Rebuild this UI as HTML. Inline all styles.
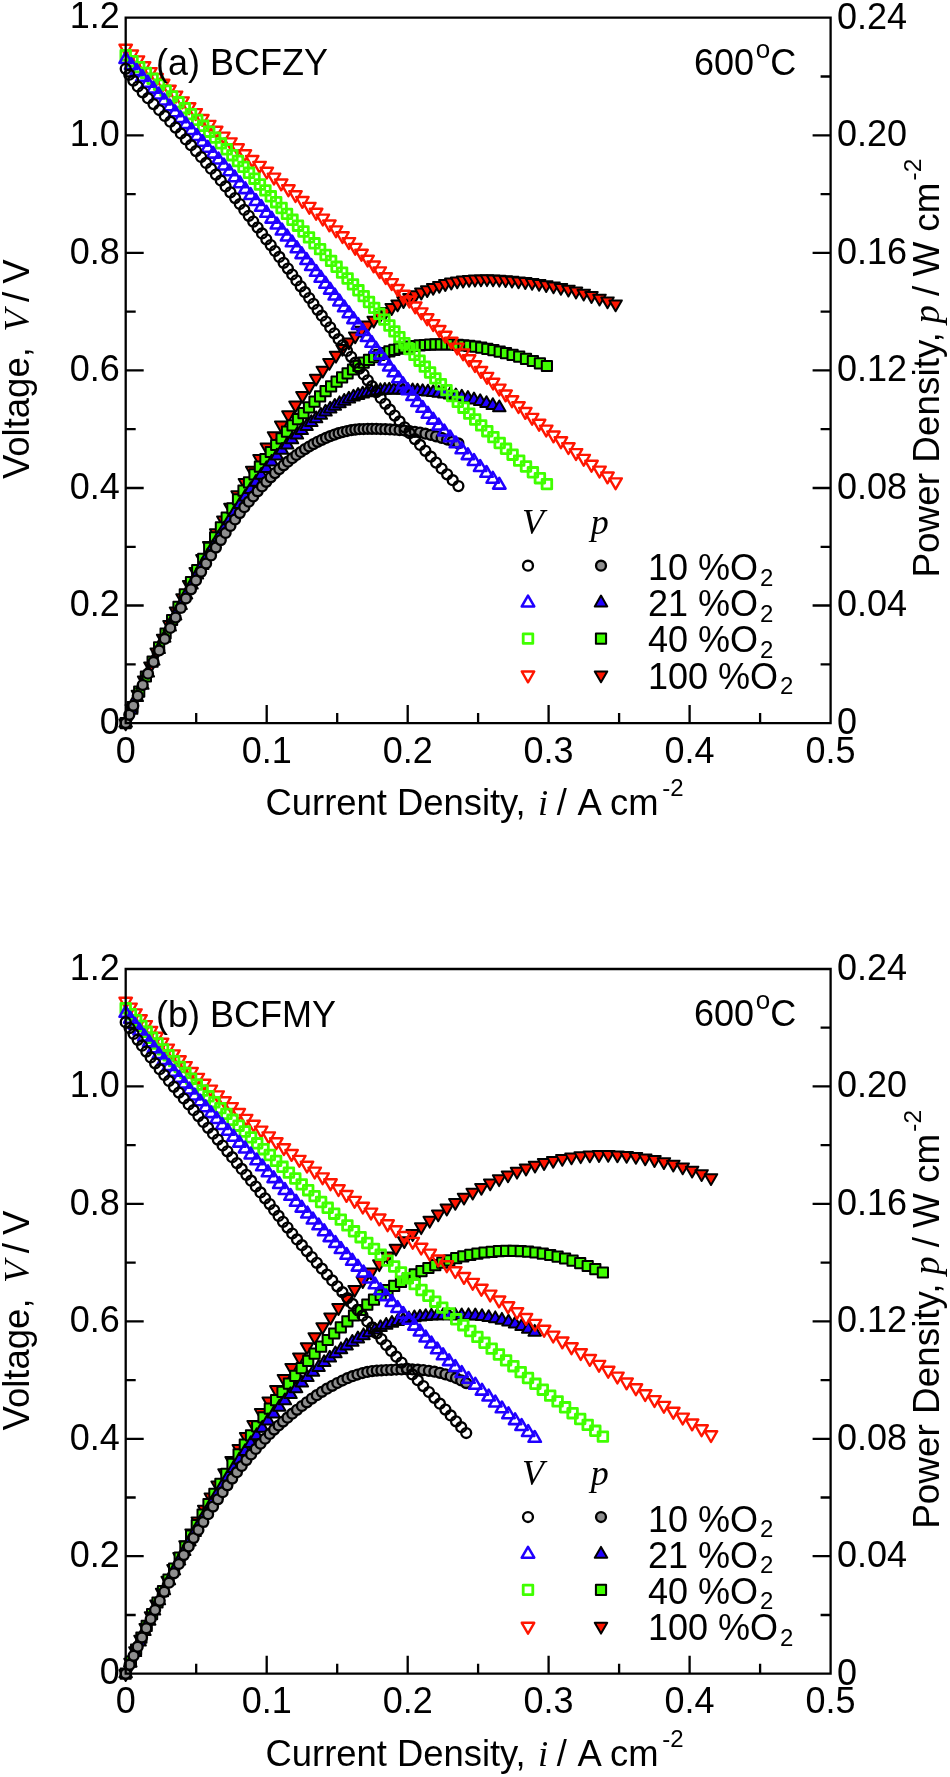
<!DOCTYPE html>
<html><head><meta charset="utf-8"><title>chart</title>
<style>html,body{margin:0;padding:0;background:#fff}svg{display:block;will-change:transform;font-family:"Liberation Sans",sans-serif;font-size:36px;fill:#000}.it{font-family:"Liberation Serif",serif;font-style:italic}</style></head>
<body>
<svg width="950" height="1777" viewBox="0 0 950 1777">
<rect width="950" height="1777" fill="#fff"/>
<defs><g id="sv10"><circle r="4.95" fill="none" stroke="#000000" stroke-width="2.35" stroke-linejoin="round"/></g><marker id="v10" markerUnits="userSpaceOnUse" markerWidth="20" markerHeight="20" viewBox="-10 -10 20 20" refX="0" refY="0" overflow="visible"><circle r="4.95" fill="none" stroke="#000000" stroke-width="2.35" stroke-linejoin="round"/></marker><g id="sp10"><circle r="4.95" fill="#8e8e8e" stroke="#000" stroke-width="2.35" stroke-linejoin="round"/></g><marker id="p10" markerUnits="userSpaceOnUse" markerWidth="20" markerHeight="20" viewBox="-10 -10 20 20" refX="0" refY="0" overflow="visible"><circle r="4.95" fill="#8e8e8e" stroke="#000" stroke-width="2.35" stroke-linejoin="round"/></marker><g id="sv21"><polygon points="0.00,-7.22 6.25,3.61 -6.25,3.61" fill="none" stroke="#2000ff" stroke-width="2.55" stroke-linejoin="round"/></g><marker id="v21" markerUnits="userSpaceOnUse" markerWidth="20" markerHeight="20" viewBox="-10 -10 20 20" refX="0" refY="0" overflow="visible"><polygon points="0.00,-7.22 6.25,3.61 -6.25,3.61" fill="none" stroke="#2000ff" stroke-width="2.55" stroke-linejoin="round"/></marker><g id="sp21"><polygon points="0.00,-7.22 6.25,3.61 -6.25,3.61" fill="#2000ff" stroke="#000" stroke-width="2.00" stroke-linejoin="round"/></g><marker id="p21" markerUnits="userSpaceOnUse" markerWidth="20" markerHeight="20" viewBox="-10 -10 20 20" refX="0" refY="0" overflow="visible"><polygon points="0.00,-7.22 6.25,3.61 -6.25,3.61" fill="#2000ff" stroke="#000" stroke-width="2.00" stroke-linejoin="round"/></marker><g id="sv40"><rect x="-4.80" y="-4.80" width="9.60" height="9.60" fill="none" stroke="#40ff00" stroke-width="2.80" stroke-linejoin="round"/></g><marker id="v40" markerUnits="userSpaceOnUse" markerWidth="20" markerHeight="20" viewBox="-10 -10 20 20" refX="0" refY="0" overflow="visible"><rect x="-4.80" y="-4.80" width="9.60" height="9.60" fill="none" stroke="#40ff00" stroke-width="2.80" stroke-linejoin="round"/></marker><g id="sp40"><rect x="-5.10" y="-5.10" width="10.20" height="10.20" fill="#40ff00" stroke="#000" stroke-width="2.00" stroke-linejoin="round"/></g><marker id="p40" markerUnits="userSpaceOnUse" markerWidth="20" markerHeight="20" viewBox="-10 -10 20 20" refX="0" refY="0" overflow="visible"><rect x="-5.10" y="-5.10" width="10.20" height="10.20" fill="#40ff00" stroke="#000" stroke-width="2.00" stroke-linejoin="round"/></marker><g id="sv100"><polygon points="0.00,7.22 6.25,-3.61 -6.25,-3.61" fill="none" stroke="#ff1500" stroke-width="2.40" stroke-linejoin="round"/></g><marker id="v100" markerUnits="userSpaceOnUse" markerWidth="20" markerHeight="20" viewBox="-10 -10 20 20" refX="0" refY="0" overflow="visible"><polygon points="0.00,7.22 6.25,-3.61 -6.25,-3.61" fill="none" stroke="#ff1500" stroke-width="2.40" stroke-linejoin="round"/></marker><g id="sp100"><polygon points="0.00,7.22 6.25,-3.61 -6.25,-3.61" fill="#ff1500" stroke="#000" stroke-width="2.00" stroke-linejoin="round"/></g><marker id="p100" markerUnits="userSpaceOnUse" markerWidth="20" markerHeight="20" viewBox="-10 -10 20 20" refX="0" refY="0" overflow="visible"><polygon points="0.00,7.22 6.25,-3.61 -6.25,-3.61" fill="#ff1500" stroke="#000" stroke-width="2.00" stroke-linejoin="round"/></marker></defs>
<g>
<polyline points="125.7,723.1 131.8,708.6 137.9,694.3 144.1,680.1 150.4,666.1 156.7,652.1 163.1,638.3 169.5,624.7 176.0,611.2 182.5,597.8 189.1,584.6 195.7,571.5 202.4,558.6 209.2,545.7 216.2,532.8 223.3,520.0 230.4,507.3 237.6,494.8 244.9,482.5 252.2,470.4 259.5,458.6 266.8,447.1 274.0,435.9 281.2,425.2 288.4,414.9 295.5,405.0 302.4,395.6 309.3,386.7 316.1,378.3 322.8,370.3 329.4,362.6 336.0,355.4 342.5,348.5 348.9,342.1 355.2,336.0 361.5,330.4 367.6,325.1 373.7,320.3 379.7,315.7 385.7,311.5 391.7,307.7 397.6,304.1 403.5,300.7 409.4,297.6 415.3,294.8 421.3,292.2 427.2,289.8 433.2,287.5 439.3,285.5 445.3,283.7 451.3,282.2 457.2,281.1 463.1,280.2 469.1,279.6 475.0,279.2 481.0,279.0 487.0,278.9 493.1,279.1 499.3,279.4 505.6,279.8 512.0,280.3 518.5,281.0 525.3,281.7 532.1,282.6 539.1,283.6 546.2,284.8 553.5,286.1 560.9,287.6 568.4,289.3 576.0,291.2 583.7,293.3 591.5,295.7 599.5,298.3 607.5,301.1 615.6,304.1" fill="none" stroke="none" marker-start="url(#p100)" marker-mid="url(#p100)" marker-end="url(#p100)"/>
<polyline points="125.7,723.1 132.5,707.1 139.2,691.6 145.9,676.5 152.6,661.7 159.1,647.4 165.6,633.5 172.1,620.0 178.5,606.9 184.8,594.3 191.0,582.0 197.2,570.2 203.2,558.9 209.2,547.9 215.1,537.4 220.9,527.3 226.7,517.6 232.4,508.3 238.0,499.3 243.5,490.7 249.0,482.4 254.5,474.4 259.9,466.7 265.4,459.2 270.8,452.0 276.2,445.0 281.6,438.3 287.0,431.7 292.5,425.4 298.0,419.2 303.5,413.1 309.0,407.3 314.5,401.7 320.1,396.4 325.6,391.2 331.1,386.4 336.6,381.7 342.1,377.4 347.6,373.3 353.0,369.5 358.4,365.9 363.7,362.7 369.0,359.8 374.2,357.2 379.3,354.9 384.4,353.0 389.4,351.3 394.4,349.8 399.4,348.6 404.4,347.5 409.4,346.7 414.5,346.0 419.6,345.4 424.8,345.0 430.1,344.6 435.4,344.4 440.9,344.3 446.5,344.3 452.1,344.4 457.8,344.8 463.5,345.3 469.3,345.9 475.2,346.7 481.2,347.7 487.3,348.8 493.4,350.1 499.7,351.6 506.0,353.1 512.6,354.9 519.2,356.7 526.0,358.8 532.9,361.0 539.9,363.4 546.9,366.0" fill="none" stroke="none" marker-start="url(#p40)" marker-mid="url(#p40)" marker-end="url(#p40)"/>
<polyline points="125.7,723.1 131.2,710.2 136.8,697.5 142.3,685.2 147.8,673.0 153.3,661.1 158.7,649.5 164.2,638.1 169.7,626.9 175.1,616.0 180.6,605.4 186.0,595.0 191.5,584.9 196.9,574.9 202.3,565.3 207.7,555.8 213.1,546.7 218.5,537.7 223.9,529.0 229.3,520.6 234.6,512.4 240.0,504.5 245.3,496.8 250.6,489.4 255.9,482.2 261.2,475.2 266.5,468.5 271.7,462.0 276.9,455.9 282.0,450.2 287.1,444.8 292.0,439.7 296.9,435.0 301.7,430.5 306.6,426.3 311.3,422.4 316.1,418.7 320.8,415.2 325.5,412.0 330.2,409.0 334.8,406.2 339.5,403.6 344.2,401.2 348.9,399.0 353.5,397.0 358.1,395.3 362.7,393.9 367.1,392.7 371.6,391.8 376.0,391.1 380.4,390.6 384.8,390.2 389.3,390.0 393.8,389.9 398.4,390.0 403.0,390.1 407.7,390.4 412.6,390.7 417.5,391.0 422.6,391.5 427.9,391.9 433.2,392.5 438.7,393.2 444.3,393.9 450.1,394.8 455.9,395.8 461.8,397.0 467.9,398.3 474.0,399.8 480.2,401.5 486.5,403.4 492.8,405.4 499.3,407.7" fill="none" stroke="none" marker-start="url(#p21)" marker-mid="url(#p21)" marker-end="url(#p21)"/>
<polyline points="125.7,723.1 129.3,714.8 133.3,705.8 137.8,695.8 142.7,685.0 148.0,673.7 153.5,662.0 159.2,650.4 164.8,638.9 170.3,627.9 175.6,617.6 180.8,607.9 185.9,598.5 191.0,589.3 196.0,580.4 201.1,571.8 206.1,563.4 211.0,555.4 215.9,547.6 220.8,540.1 225.6,532.9 230.4,526.0 235.1,519.4 239.8,513.1 244.3,507.2 248.8,501.7 253.2,496.4 257.6,491.3 262.0,486.4 266.3,481.8 270.7,477.3 275.0,473.1 279.3,469.1 283.6,465.3 287.9,461.7 292.2,458.2 296.4,455.0 300.7,452.0 305.0,449.1 309.2,446.5 313.4,444.1 317.6,441.8 321.8,439.8 326.0,437.9 330.2,436.2 334.4,434.6 338.6,433.2 342.8,432.0 347.0,431.0 351.2,430.2 355.3,429.6 359.4,429.2 363.6,429.0 367.8,428.8 372.0,428.8 376.3,428.8 380.7,429.0 385.3,429.2 389.9,429.4 394.7,429.7 399.6,430.1 404.6,430.5 409.7,431.1 414.9,431.8 420.1,432.6 425.4,433.7 430.8,434.9 436.1,436.3 441.6,437.8 447.1,439.5 452.7,441.4 458.4,443.4" fill="none" stroke="none" marker-start="url(#p10)" marker-mid="url(#p10)" marker-end="url(#p10)"/>
<polyline points="125.7,48.3 131.8,54.1 137.9,60.0 144.1,65.8 150.4,71.7 156.7,77.6 163.1,83.4 169.5,89.3 176.0,95.2 182.5,101.0 189.1,106.9 195.7,112.7 202.4,118.6 209.2,124.5 216.2,130.3 223.3,136.2 230.4,142.0 237.6,147.9 244.9,153.8 252.2,159.6 259.5,165.5 266.8,171.3 274.0,177.2 281.2,183.1 288.4,188.9 295.5,194.8 302.4,200.6 309.3,206.5 316.1,212.4 322.8,218.2 329.4,224.1 336.0,230.0 342.5,235.8 348.9,241.7 355.2,247.5 361.5,253.4 367.6,259.3 373.7,265.1 379.7,271.0 385.7,276.8 391.7,282.7 397.6,288.6 403.5,294.4 409.4,300.3 415.3,306.1 421.3,312.0 427.2,317.9 433.2,323.7 439.3,329.6 445.3,335.4 451.3,341.3 457.2,347.2 463.1,353.0 469.1,358.9 475.0,364.8 481.0,370.6 487.0,376.5 493.1,382.3 499.3,388.2 505.6,394.1 512.0,399.9 518.5,405.8 525.3,411.6 532.1,417.5 539.1,423.4 546.2,429.2 553.5,435.1 560.9,440.9 568.4,446.8 576.0,452.7 583.7,458.5 591.5,464.4 599.5,470.2 607.5,476.1 615.6,482.0" fill="none" stroke="none" marker-start="url(#v100)" marker-mid="url(#v100)" marker-end="url(#v100)"/>
<polyline points="125.7,55.3 132.5,61.2 139.2,67.1 145.9,72.9 152.6,78.8 159.1,84.7 165.6,90.6 172.1,96.4 178.5,102.3 184.8,108.2 191.0,114.1 197.2,119.9 203.2,125.8 209.2,131.7 215.1,137.6 220.9,143.4 226.7,149.3 232.4,155.2 238.0,161.0 243.5,166.9 249.0,172.8 254.5,178.7 259.9,184.5 265.4,190.4 270.8,196.3 276.2,202.2 281.6,208.0 287.0,213.9 292.5,219.8 298.0,225.7 303.5,231.5 309.0,237.4 314.5,243.3 320.1,249.1 325.6,255.0 331.1,260.9 336.6,266.8 342.1,272.6 347.6,278.5 353.0,284.4 358.4,290.3 363.7,296.1 369.0,302.0 374.2,307.9 379.3,313.8 384.4,319.6 389.4,325.5 394.4,331.4 399.4,337.2 404.4,343.1 409.4,349.0 414.5,354.9 419.6,360.7 424.8,366.6 430.1,372.5 435.4,378.4 440.9,384.2 446.5,390.1 452.1,396.0 457.8,401.9 463.5,407.7 469.3,413.6 475.2,419.5 481.2,425.4 487.3,431.2 493.4,437.1 499.7,443.0 506.0,448.8 512.6,454.7 519.2,460.6 526.0,466.5 532.9,472.3 539.9,478.2 546.9,484.1" fill="none" stroke="none" marker-start="url(#v40)" marker-mid="url(#v40)" marker-end="url(#v40)"/>
<polyline points="125.7,59.4 131.2,65.3 136.8,71.3 142.3,77.2 147.8,83.1 153.3,89.0 158.7,94.9 164.2,100.8 169.7,106.7 175.1,112.6 180.6,118.5 186.0,124.5 191.5,130.4 196.9,136.3 202.3,142.2 207.7,148.1 213.1,154.0 218.5,159.9 223.9,165.8 229.3,171.7 234.6,177.7 240.0,183.6 245.3,189.5 250.6,195.4 255.9,201.3 261.2,207.2 266.5,213.1 271.7,219.0 276.9,224.9 282.0,230.9 287.1,236.8 292.0,242.7 296.9,248.6 301.7,254.5 306.6,260.4 311.3,266.3 316.1,272.2 320.8,278.1 325.5,284.1 330.2,290.0 334.8,295.9 339.5,301.8 344.2,307.7 348.9,313.6 353.5,319.5 358.1,325.4 362.7,331.3 367.1,337.3 371.6,343.2 376.0,349.1 380.4,355.0 384.8,360.9 389.3,366.8 393.8,372.7 398.4,378.6 403.0,384.5 407.7,390.5 412.6,396.4 417.5,402.3 422.6,408.2 427.9,414.1 433.2,420.0 438.7,425.9 444.3,431.8 450.1,437.7 455.9,443.7 461.8,449.6 467.9,455.5 474.0,461.4 480.2,467.3 486.5,473.2 492.8,479.1 499.3,485.0" fill="none" stroke="none" marker-start="url(#v21)" marker-mid="url(#v21)" marker-end="url(#v21)"/>
<polyline points="125.7,68.8 129.3,74.7 133.3,80.6 137.8,86.5 142.7,92.3 148.0,98.2 153.5,104.1 159.2,110.0 164.8,115.9 170.3,121.7 175.6,127.6 180.8,133.5 185.9,139.4 191.0,145.2 196.0,151.1 201.1,157.0 206.1,162.9 211.0,168.7 215.9,174.6 220.8,180.5 225.6,186.4 230.4,192.3 235.1,198.1 239.8,204.0 244.3,209.9 248.8,215.8 253.2,221.6 257.6,227.5 262.0,233.4 266.3,239.3 270.7,245.1 275.0,251.0 279.3,256.9 283.6,262.8 287.9,268.6 292.2,274.5 296.4,280.4 300.7,286.3 305.0,292.2 309.2,298.0 313.4,303.9 317.6,309.8 321.8,315.7 326.0,321.5 330.2,327.4 334.4,333.3 338.6,339.2 342.8,345.0 347.0,350.9 351.2,356.8 355.3,362.7 359.4,368.6 363.6,374.4 367.8,380.3 372.0,386.2 376.3,392.1 380.7,397.9 385.3,403.8 389.9,409.7 394.7,415.6 399.6,421.4 404.6,427.3 409.7,433.2 414.9,439.1 420.1,444.9 425.4,450.8 430.8,456.7 436.1,462.6 441.6,468.5 447.1,474.3 452.7,480.2 458.4,486.1" fill="none" stroke="none" marker-start="url(#v10)" marker-mid="url(#v10)" marker-end="url(#v10)"/>
<path d="M125.7 17.7H830.6V723.1H125.7ZM125.7 723.1h18M830.6 723.1h-18M125.7 664.3h10M830.6 664.3h-10M125.7 605.5h18M830.6 605.5h-18M125.7 546.8h10M830.6 546.8h-10M125.7 488.0h18M830.6 488.0h-18M125.7 429.2h10M830.6 429.2h-10M125.7 370.4h18M830.6 370.4h-18M125.7 311.6h10M830.6 311.6h-10M125.7 252.8h18M830.6 252.8h-18M125.7 194.1h10M830.6 194.1h-10M125.7 135.3h18M830.6 135.3h-18M125.7 76.5h10M830.6 76.5h-10M125.7 17.7h18M830.6 17.7h-18M125.7 723.1v-18M196.2 723.1v-10M266.7 723.1v-18M337.2 723.1v-10M407.7 723.1v-18M478.1 723.1v-10M548.6 723.1v-18M619.1 723.1v-10M689.6 723.1v-18M760.1 723.1v-10M830.6 723.1v-18" fill="none" stroke="#000" stroke-width="2.3" stroke-linecap="butt" stroke-linejoin="miter"/>
<text x="119.7" y="733.8" text-anchor="end">0</text>
<text x="837.0" y="733.9">0</text>
<text x="119.7" y="616.2" text-anchor="end">0.2</text>
<text x="837.0" y="616.3">0.04</text>
<text x="119.7" y="498.7" text-anchor="end">0.4</text>
<text x="837.0" y="498.8">0.08</text>
<text x="119.7" y="381.1" text-anchor="end">0.6</text>
<text x="837.0" y="381.2">0.12</text>
<text x="119.7" y="263.5" text-anchor="end">0.8</text>
<text x="837.0" y="263.6">0.16</text>
<text x="119.7" y="146.0" text-anchor="end">1.0</text>
<text x="837.0" y="146.1">0.20</text>
<text x="119.7" y="28.4" text-anchor="end">1.2</text>
<text x="837.0" y="28.5">0.24</text>
<text x="125.7" y="762.7" text-anchor="middle">0</text>
<text x="266.7" y="762.7" text-anchor="middle">0.1</text>
<text x="407.7" y="762.7" text-anchor="middle">0.2</text>
<text x="548.6" y="762.7" text-anchor="middle">0.3</text>
<text x="689.6" y="762.7" text-anchor="middle">0.4</text>
<text x="830.6" y="762.7" text-anchor="middle">0.5</text>
<g font-size="36.4"><text x="265.5" y="815.0">Current Density,</text><text class="it" x="538" y="815.0">i</text><text x="556.8" y="815.0">/</text><text x="577.5" y="815.0">A</text><text x="610" y="815.0">cm</text><text x="662.2" y="796.2" font-size="24">-2</text></g>
<g font-size="36.5"><text transform="translate(28.8 479.1) rotate(-90)">Voltage,</text><text transform="translate(28.8 331.7) rotate(-90)" class="it">V</text><text transform="translate(28.8 302.0) rotate(-90)">/</text><text transform="translate(28.8 283.8) rotate(-90)">V</text></g>
<g font-size="36.9"><text transform="translate(939.4 577.5) rotate(-90)">Power Density,</text><text transform="translate(939.4 323.5) rotate(-90)" class="it">p</text><text transform="translate(939.4 295.9) rotate(-90)">/</text><text transform="translate(939.4 276.6) rotate(-90)">W</text><text transform="translate(939.4 231.7) rotate(-90)">cm</text><text transform="translate(920.7 180.4) rotate(-90)" font-size="24.5">-2</text></g>
<text x="156" y="75.3">(a) BCFZY</text>
<text x="693.9" y="75.0">600<tspan font-size="26" dx="1.7" dy="-17">o</tspan><tspan dy="17">C</tspan></text>
<text class="it" x="522" y="533.7">V</text>
<text class="it" x="590.7" y="533.7">p</text>
<use href="#sv10" x="528" y="565.7"/>
<use href="#sp10" x="601" y="565.7"/>
<text x="648" y="580.2">10 %O<tspan font-size="24" dx="2" dy="5.7">2</tspan></text>
<use href="#sv21" x="528" y="602.8"/>
<use href="#sp21" x="601" y="602.8"/>
<text x="648" y="616.2">21 %O<tspan font-size="24" dx="2" dy="5.7">2</tspan></text>
<use href="#sv40" x="528" y="638.6"/>
<use href="#sp40" x="601" y="638.6"/>
<text x="648" y="652.2">40 %O<tspan font-size="24" dx="2" dy="5.7">2</tspan></text>
<use href="#sv100" x="528" y="675.1"/>
<use href="#sp100" x="601" y="675.1"/>
<text x="648" y="688.6">100 %O<tspan font-size="24" dx="2" dy="5.7">2</tspan></text>
</g>
<g>
<polyline points="125.7,1673.7 130.5,1662.4 135.4,1650.9 140.5,1639.3 145.7,1627.7 151.0,1615.9 156.5,1604.1 162.1,1592.3 167.7,1580.4 173.5,1568.6 179.5,1556.7 185.5,1544.8 191.6,1533.0 197.8,1521.2 204.2,1509.3 210.8,1497.2 217.6,1485.1 224.5,1472.9 231.6,1460.7 238.8,1448.6 246.1,1436.5 253.6,1424.5 261.1,1412.7 268.7,1401.1 276.3,1389.7 283.9,1378.6 291.6,1367.7 299.3,1357.2 307.0,1346.9 314.7,1336.8 322.6,1326.9 330.5,1317.2 338.5,1307.7 346.5,1298.5 354.6,1289.5 362.8,1280.7 371.0,1272.2 379.3,1263.9 387.6,1256.0 395.9,1248.3 404.3,1240.8 412.7,1233.7 421.2,1226.9 429.7,1220.4 438.2,1214.1 446.8,1208.2 455.3,1202.6 464.0,1197.3 472.7,1192.3 481.4,1187.5 490.2,1183.1 499.1,1178.9 508.0,1175.0 517.0,1171.4 526.0,1168.2 535.0,1165.3 544.1,1162.7 553.2,1160.5 562.3,1158.6 571.5,1157.1 580.7,1155.9 589.8,1155.1 599.0,1154.7 608.2,1154.6 617.4,1155.0 626.6,1155.6 635.9,1156.6 645.2,1158.0 654.5,1159.7 663.9,1161.8 673.3,1164.3 682.7,1167.1 692.1,1170.3 701.6,1173.8 711.0,1177.8" fill="none" stroke="none" marker-start="url(#p100)" marker-mid="url(#p100)" marker-end="url(#p100)"/>
<polyline points="125.7,1673.7 130.9,1661.6 136.1,1649.5 141.4,1637.6 146.7,1625.8 152.1,1614.1 157.5,1602.5 163.0,1591.1 168.5,1579.7 174.1,1568.5 179.7,1557.5 185.4,1546.5 191.1,1535.7 196.8,1525.1 202.6,1514.6 208.5,1504.2 214.4,1493.9 220.4,1483.8 226.4,1473.8 232.5,1463.9 238.6,1454.3 244.8,1444.7 251.0,1435.4 257.2,1426.3 263.5,1417.3 269.8,1408.6 276.1,1400.1 282.5,1391.8 288.9,1383.7 295.3,1375.8 301.7,1368.2 308.2,1360.8 314.6,1353.7 321.1,1346.7 327.7,1340.0 334.2,1333.5 340.8,1327.3 347.4,1321.3 354.0,1315.5 360.6,1310.0 367.3,1304.7 374.0,1299.6 380.7,1294.8 387.5,1290.2 394.2,1285.9 401.0,1281.8 407.8,1278.0 414.7,1274.4 421.5,1271.1 428.4,1268.0 435.3,1265.2 442.3,1262.6 449.3,1260.3 456.2,1258.2 463.3,1256.4 470.3,1254.9 477.4,1253.6 484.5,1252.5 491.7,1251.8 498.9,1251.2 506.1,1250.9 513.4,1250.9 520.7,1251.2 528.0,1251.7 535.4,1252.5 542.8,1253.6 550.2,1255.0 557.6,1256.6 565.1,1258.5 572.6,1260.7 580.2,1263.2 587.7,1266.0 595.3,1269.1 602.9,1272.5" fill="none" stroke="none" marker-start="url(#p40)" marker-mid="url(#p40)" marker-end="url(#p40)"/>
<polyline points="125.7,1673.7 130.3,1663.0 135.0,1652.4 139.6,1641.9 144.4,1631.5 149.2,1621.1 154.0,1610.9 158.9,1600.7 163.9,1590.7 168.9,1580.7 173.9,1570.8 179.0,1561.0 184.2,1551.4 189.4,1541.8 194.7,1532.3 200.1,1522.8 205.6,1513.4 211.1,1504.1 216.7,1494.9 222.3,1485.9 227.9,1477.0 233.6,1468.3 239.4,1459.8 245.1,1451.5 250.8,1443.5 256.6,1435.6 262.3,1428.1 268.0,1420.8 273.7,1413.8 279.3,1407.1 284.9,1400.7 290.5,1394.5 296.1,1388.6 301.8,1382.9 307.4,1377.5 313.0,1372.2 318.6,1367.3 324.2,1362.5 329.8,1358.0 335.4,1353.7 341.0,1349.6 346.6,1345.8 352.3,1342.2 357.9,1338.8 363.5,1335.6 369.2,1332.7 374.9,1330.0 380.5,1327.5 386.2,1325.2 391.9,1323.2 397.6,1321.4 403.2,1319.9 408.8,1318.7 414.4,1317.7 420.0,1317.0 425.7,1316.4 431.4,1316.0 437.2,1315.7 443.1,1315.6 449.1,1315.6 455.3,1315.6 461.7,1315.7 468.5,1315.6 475.3,1315.8 482.0,1316.4 488.7,1317.4 495.3,1318.6 501.9,1320.1 508.5,1321.9 515.1,1324.0 521.6,1326.4 528.2,1329.1 534.7,1332.1" fill="none" stroke="none" marker-start="url(#p21)" marker-mid="url(#p21)" marker-end="url(#p21)"/>
<polyline points="125.7,1673.7 129.6,1664.8 133.6,1655.8 137.7,1646.7 142.0,1637.5 146.3,1628.3 150.7,1619.1 155.1,1610.0 159.7,1600.8 164.3,1591.8 169.0,1582.7 173.9,1573.3 178.9,1564.0 183.8,1555.1 188.7,1546.5 193.6,1538.1 198.4,1529.9 203.3,1521.9 208.1,1514.2 213.0,1506.6 217.8,1499.3 222.6,1492.2 227.4,1485.3 232.2,1478.6 236.9,1472.2 241.7,1466.0 246.4,1460.1 251.1,1454.4 255.8,1448.9 260.5,1443.7 265.1,1438.7 269.7,1433.9 274.1,1429.6 278.6,1425.5 283.0,1421.6 287.5,1417.7 292.2,1413.7 297.0,1409.8 301.9,1406.0 306.8,1402.3 311.8,1398.6 316.8,1395.2 321.9,1391.8 327.0,1388.7 332.2,1385.8 337.3,1383.0 342.4,1380.5 347.5,1378.2 352.5,1376.2 357.5,1374.5 362.5,1373.0 367.3,1371.9 372.1,1371.1 376.8,1370.6 381.4,1370.3 386.2,1370.0 391.2,1369.8 396.3,1369.5 401.5,1369.4 406.9,1369.3 412.3,1369.4 417.8,1369.7 423.3,1370.1 428.9,1370.8 434.4,1371.7 439.9,1372.8 445.4,1374.3 450.7,1376.0 456.0,1378.0 461.2,1380.4 466.2,1383.1" fill="none" stroke="none" marker-start="url(#p10)" marker-mid="url(#p10)" marker-end="url(#p10)"/>
<polyline points="125.7,1001.3 130.5,1007.2 135.4,1013.0 140.5,1018.9 145.7,1024.7 151.0,1030.6 156.5,1036.4 162.1,1042.3 167.7,1048.2 173.5,1054.0 179.5,1059.9 185.5,1065.7 191.6,1071.6 197.8,1077.5 204.2,1083.3 210.8,1089.2 217.6,1095.0 224.5,1100.9 231.6,1106.7 238.8,1112.6 246.1,1118.5 253.6,1124.3 261.1,1130.2 268.7,1136.0 276.3,1141.9 283.9,1147.8 291.6,1153.6 299.3,1159.5 307.0,1165.3 314.7,1171.2 322.6,1177.0 330.5,1182.9 338.5,1188.8 346.5,1194.6 354.6,1200.5 362.8,1206.3 371.0,1212.2 379.3,1218.1 387.6,1223.9 395.9,1229.8 404.3,1235.6 412.7,1241.5 421.2,1247.3 429.7,1253.2 438.2,1259.1 446.8,1264.9 455.3,1270.8 464.0,1276.6 472.7,1282.5 481.4,1288.4 490.2,1294.2 499.1,1300.1 508.0,1305.9 517.0,1311.8 526.0,1317.6 535.0,1323.5 544.1,1329.4 553.2,1335.2 562.3,1341.1 571.5,1346.9 580.7,1352.8 589.8,1358.6 599.0,1364.5 608.2,1370.4 617.4,1376.2 626.6,1382.1 635.9,1387.9 645.2,1393.8 654.5,1399.7 663.9,1405.5 673.3,1411.4 682.7,1417.2 692.1,1423.1 701.6,1428.9 711.0,1434.8" fill="none" stroke="none" marker-start="url(#v100)" marker-mid="url(#v100)" marker-end="url(#v100)"/>
<polyline points="125.7,1008.3 130.9,1014.2 136.1,1020.1 141.4,1025.9 146.7,1031.8 152.1,1037.7 157.5,1043.5 163.0,1049.4 168.5,1055.3 174.1,1061.1 179.7,1067.0 185.4,1072.9 191.1,1078.7 196.8,1084.6 202.6,1090.5 208.5,1096.3 214.4,1102.2 220.4,1108.1 226.4,1113.9 232.5,1119.8 238.6,1125.7 244.8,1131.5 251.0,1137.4 257.2,1143.3 263.5,1149.2 269.8,1155.0 276.1,1160.9 282.5,1166.8 288.9,1172.6 295.3,1178.5 301.7,1184.4 308.2,1190.2 314.6,1196.1 321.1,1202.0 327.7,1207.8 334.2,1213.7 340.8,1219.6 347.4,1225.4 354.0,1231.3 360.6,1237.2 367.3,1243.0 374.0,1248.9 380.7,1254.8 387.5,1260.6 394.2,1266.5 401.0,1272.4 407.8,1278.2 414.7,1284.1 421.5,1290.0 428.4,1295.8 435.3,1301.7 442.3,1307.6 449.3,1313.4 456.2,1319.3 463.3,1325.2 470.3,1331.0 477.4,1336.9 484.5,1342.8 491.7,1348.6 498.9,1354.5 506.1,1360.4 513.4,1366.2 520.7,1372.1 528.0,1378.0 535.4,1383.8 542.8,1389.7 550.2,1395.6 557.6,1401.4 565.1,1407.3 572.6,1413.2 580.2,1419.0 587.7,1424.9 595.3,1430.8 602.9,1436.6" fill="none" stroke="none" marker-start="url(#v40)" marker-mid="url(#v40)" marker-end="url(#v40)"/>
<polyline points="125.7,1013.2 130.3,1019.1 135.0,1025.0 139.6,1030.9 144.4,1036.8 149.2,1042.7 154.0,1048.6 158.9,1054.5 163.9,1060.4 168.9,1066.3 173.9,1072.2 179.0,1078.1 184.2,1084.0 189.4,1089.9 194.7,1095.8 200.1,1101.7 205.6,1107.6 211.1,1113.5 216.7,1119.4 222.3,1125.3 227.9,1131.2 233.6,1137.1 239.4,1143.0 245.1,1148.9 250.8,1154.8 256.6,1160.7 262.3,1166.7 268.0,1172.6 273.7,1178.5 279.3,1184.4 284.9,1190.3 290.5,1196.2 296.1,1202.1 301.8,1208.0 307.4,1213.9 313.0,1219.8 318.6,1225.7 324.2,1231.6 329.8,1237.5 335.4,1243.4 341.0,1249.3 346.6,1255.2 352.3,1261.1 357.9,1267.0 363.5,1272.9 369.2,1278.8 374.9,1284.7 380.5,1290.6 386.2,1296.5 391.9,1302.4 397.6,1308.3 403.2,1314.2 408.8,1320.1 414.4,1326.0 420.0,1331.9 425.7,1337.9 431.4,1343.8 437.2,1349.7 443.1,1355.6 449.1,1361.5 455.3,1367.4 461.7,1373.3 468.5,1379.2 475.3,1385.1 482.0,1391.0 488.7,1396.9 495.3,1402.8 501.9,1408.7 508.5,1414.6 515.1,1420.5 521.6,1426.4 528.2,1432.3 534.7,1438.2" fill="none" stroke="none" marker-start="url(#v21)" marker-mid="url(#v21)" marker-end="url(#v21)"/>
<polyline points="125.7,1022.2 129.6,1028.1 133.6,1033.9 137.7,1039.8 142.0,1045.7 146.3,1051.6 150.7,1057.4 155.1,1063.3 159.7,1069.2 164.3,1075.0 169.0,1080.9 173.9,1086.8 178.9,1092.6 183.8,1098.5 188.7,1104.4 193.6,1110.2 198.4,1116.1 203.3,1122.0 208.1,1127.8 213.0,1133.7 217.8,1139.6 222.6,1145.5 227.4,1151.3 232.2,1157.2 236.9,1163.1 241.7,1168.9 246.4,1174.8 251.1,1180.7 255.8,1186.5 260.5,1192.4 265.1,1198.3 269.7,1204.1 274.1,1210.0 278.6,1215.9 283.0,1221.8 287.5,1227.6 292.2,1233.5 297.0,1239.4 301.9,1245.2 306.8,1251.1 311.8,1257.0 316.8,1262.8 321.9,1268.7 327.0,1274.6 332.2,1280.4 337.3,1286.3 342.4,1292.2 347.5,1298.1 352.5,1303.9 357.5,1309.8 362.5,1315.7 367.3,1321.5 372.1,1327.4 376.8,1333.3 381.4,1339.1 386.2,1345.0 391.2,1350.9 396.3,1356.7 401.5,1362.6 406.9,1368.5 412.3,1374.4 417.8,1380.2 423.3,1386.1 428.9,1392.0 434.4,1397.8 439.9,1403.7 445.4,1409.6 450.7,1415.4 456.0,1421.3 461.2,1427.2 466.2,1433.0" fill="none" stroke="none" marker-start="url(#v10)" marker-mid="url(#v10)" marker-end="url(#v10)"/>
<path d="M125.7 969.0H830.6V1673.7H125.7ZM125.7 1673.7h18M830.6 1673.7h-18M125.7 1615.0h10M830.6 1615.0h-10M125.7 1556.2h18M830.6 1556.2h-18M125.7 1497.5h10M830.6 1497.5h-10M125.7 1438.8h18M830.6 1438.8h-18M125.7 1380.1h10M830.6 1380.1h-10M125.7 1321.3h18M830.6 1321.3h-18M125.7 1262.6h10M830.6 1262.6h-10M125.7 1203.9h18M830.6 1203.9h-18M125.7 1145.2h10M830.6 1145.2h-10M125.7 1086.4h18M830.6 1086.4h-18M125.7 1027.7h10M830.6 1027.7h-10M125.7 969.0h18M830.6 969.0h-18M125.7 1673.7v-18M196.2 1673.7v-10M266.7 1673.7v-18M337.2 1673.7v-10M407.7 1673.7v-18M478.1 1673.7v-10M548.6 1673.7v-18M619.1 1673.7v-10M689.6 1673.7v-18M760.1 1673.7v-10M830.6 1673.7v-18" fill="none" stroke="#000" stroke-width="2.3" stroke-linecap="butt" stroke-linejoin="miter"/>
<text x="119.7" y="1684.4" text-anchor="end">0</text>
<text x="837.0" y="1684.5">0</text>
<text x="119.7" y="1567.0" text-anchor="end">0.2</text>
<text x="837.0" y="1567.0">0.04</text>
<text x="119.7" y="1449.5" text-anchor="end">0.4</text>
<text x="837.0" y="1449.6">0.08</text>
<text x="119.7" y="1332.0" text-anchor="end">0.6</text>
<text x="837.0" y="1332.1">0.12</text>
<text x="119.7" y="1214.6" text-anchor="end">0.8</text>
<text x="837.0" y="1214.7">0.16</text>
<text x="119.7" y="1097.1" text-anchor="end">1.0</text>
<text x="837.0" y="1097.2">0.20</text>
<text x="119.7" y="979.7" text-anchor="end">1.2</text>
<text x="837.0" y="979.8">0.24</text>
<text x="125.7" y="1713.3" text-anchor="middle">0</text>
<text x="266.7" y="1713.3" text-anchor="middle">0.1</text>
<text x="407.7" y="1713.3" text-anchor="middle">0.2</text>
<text x="548.6" y="1713.3" text-anchor="middle">0.3</text>
<text x="689.6" y="1713.3" text-anchor="middle">0.4</text>
<text x="830.6" y="1713.3" text-anchor="middle">0.5</text>
<g font-size="36.4"><text x="265.5" y="1765.6">Current Density,</text><text class="it" x="538" y="1765.6">i</text><text x="556.8" y="1765.6">/</text><text x="577.5" y="1765.6">A</text><text x="610" y="1765.6">cm</text><text x="662.2" y="1746.8" font-size="24">-2</text></g>
<g font-size="36.5"><text transform="translate(28.8 1430.4) rotate(-90)">Voltage,</text><text transform="translate(28.8 1283.0) rotate(-90)" class="it">V</text><text transform="translate(28.8 1253.3) rotate(-90)">/</text><text transform="translate(28.8 1235.1) rotate(-90)">V</text></g>
<g font-size="36.9"><text transform="translate(939.4 1528.8) rotate(-90)">Power Density,</text><text transform="translate(939.4 1274.8) rotate(-90)" class="it">p</text><text transform="translate(939.4 1247.2) rotate(-90)">/</text><text transform="translate(939.4 1227.9) rotate(-90)">W</text><text transform="translate(939.4 1183.0) rotate(-90)">cm</text><text transform="translate(920.7 1131.7) rotate(-90)" font-size="24.5">-2</text></g>
<text x="156" y="1026.6">(b) BCFMY</text>
<text x="693.9" y="1026.3">600<tspan font-size="26" dx="1.7" dy="-17">o</tspan><tspan dy="17">C</tspan></text>
<text class="it" x="522" y="1485.0">V</text>
<text class="it" x="590.7" y="1485.0">p</text>
<use href="#sv10" x="528" y="1517.0"/>
<use href="#sp10" x="601" y="1517.0"/>
<text x="648" y="1531.5">10 %O<tspan font-size="24" dx="2" dy="5.7">2</tspan></text>
<use href="#sv21" x="528" y="1554.1"/>
<use href="#sp21" x="601" y="1554.1"/>
<text x="648" y="1567.5">21 %O<tspan font-size="24" dx="2" dy="5.7">2</tspan></text>
<use href="#sv40" x="528" y="1589.9"/>
<use href="#sp40" x="601" y="1589.9"/>
<text x="648" y="1603.5">40 %O<tspan font-size="24" dx="2" dy="5.7">2</tspan></text>
<use href="#sv100" x="528" y="1626.4"/>
<use href="#sp100" x="601" y="1626.4"/>
<text x="648" y="1639.9">100 %O<tspan font-size="24" dx="2" dy="5.7">2</tspan></text>
</g>
</svg></body></html>
